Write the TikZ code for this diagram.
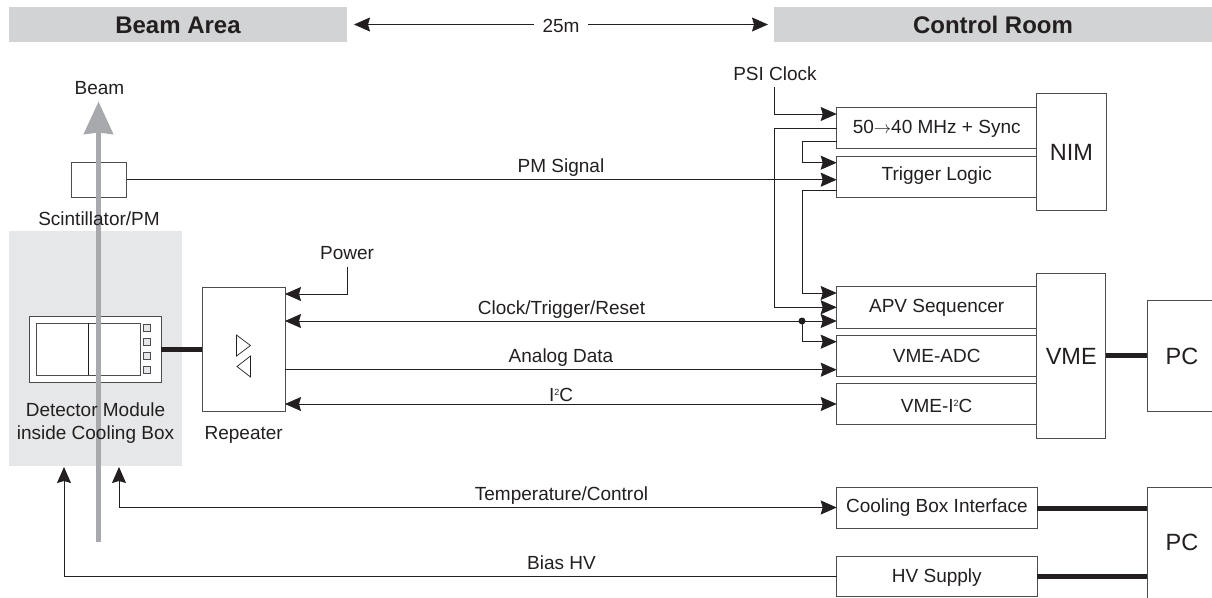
\documentclass[tikz,border=0pt]{standalone}
\usepackage{fontspec}
\setmainfont{Liberation Sans}
\usetikzlibrary{arrows.meta}
\definecolor{ink}{HTML}{231F20}
\definecolor{boxline}{HTML}{4D4D4F}
\definecolor{cool}{HTML}{E6E7E8}
\definecolor{beamc}{HTML}{A7A9AC}
\definecolor{head}{HTML}{D1D3D4}
\tikzset{
  x=1pt,y=-1pt,
  every node/.style={font=\fontsize{19}{23}\selectfont,text=ink,inner sep=0pt,outer sep=0pt},
  bx/.style={draw=boxline,line width=1pt,fill=white},
  tbx/.style={bx,text height=13.4pt,text depth=0pt},
  lab/.style={anchor=base},
  heading/.style={fill=head,font=\bfseries\fontsize{24}{28}\selectfont,text height=17pt,text depth=0pt},
  wire/.style={draw=ink,line width=0.9pt},
  tipa/.tip={Stealth[length=16pt,width=14pt,inset=2pt]},
  arr/.style={wire,-tipa},
  biarr/.style={wire,tipa-tipa},
  thick wire/.style={draw=ink,line width=5pt},
}
\newcommand{\boxat}[7][bx]{\node[#1,minimum width=#6-#4,minimum height=#7-#5] (#2) at ({(#4+#6)/2},{(#5+#7)/2}) {#3};}
\newcommand{\bigt}{\fontsize{23.5}{26}\selectfont}
\newcommand{\tb}[2]{\raisebox{#1pt}{#2}}
\newcommand{\squared}{\raisebox{6pt}{\fontsize{9}{9}\selectfont 2}}
\begin{document}
\begin{tikzpicture}
\useasboundingbox (0,0) rectangle (1212,597);
% headers
\node[heading,minimum width=338pt,minimum height=35pt] (hbeam) at (178,24.5) {Beam Area};
\node[heading,minimum width=438pt,minimum height=35pt] (hctrl) at (993,24.5) {Control Room};
\node[lab] (dist) at (561,32) {25m};
\coordinate (dl) at (354,24.5);
\coordinate (dr) at (768,24.5);
\draw[arr] (dist.west |- dl) ++(-9,0) -- (dl);
\draw[arr] (dist.east |- dr) ++(9,0) -- (dr);
% cooling box
\boxat[fill=cool]{cool}{}{9}{231}{182}{466}
% scintillator
\boxat{scint}{}{71}{162.5}{126.5}{197.3}
% module
\boxat{modout}{}{29.5}{316}{161}{382}
\boxat{modin}{}{36.5}{323}{140}{375}
\coordinate (divt) at (88,323);
\coordinate (divb) at (88,375);
\draw[wire] (divt) -- (divb);
\boxat[bx,fill=cool]{s1}{}{143.5}{324.5}{150.5}{331.5}
\boxat[bx,fill=cool]{s2}{}{143.5}{338.5}{150.5}{345.5}
\boxat[bx,fill=cool]{s3}{}{143.5}{352}{150.5}{359}
\boxat[bx,fill=cool]{s4}{}{143.5}{366}{150.5}{373}
% beam
\coordinate (beamb) at (98.5,541.7);
\coordinate (beamt) at (98.5,101.5);
\draw[draw=beamc,line width=5pt,-{Stealth[length=32.5pt,width=29pt,inset=1.5pt]}] (beamb) -- (beamt);
% labels near beam
\node[lab] (beam) at (99.5,94) {Beam};
\node[lab] (scintl) at (99,225) {Scintillator/PM};
\node[lab] (modl1) at (95.5,416) {Detector Module};
\node[lab] (modl2) at (95.5,439) {inside Cooling Box};
% repeater
\boxat{rep}{}{202}{287}{285}{411}
\node[lab] (repl) at (243.7,439) {Repeater};
\draw[draw=ink,line width=.7pt,fill=white] (236.5,335) -- (250.5,345.5) -- (236.5,356) -- cycle;
\draw[draw=ink,line width=.7pt,fill=white] (250.5,356) -- (237,366.5) -- (250.5,377) -- cycle;
% right boxes
\boxat[tbx]{nim}{\tb{-1.9}{\bigt NIM}}{1036.7}{93.7}{1106}{210.7}
\boxat[tbx]{sync}{\tb{1.2}{50{\fontsize{19}{22}\selectfont$\rightarrow$}40 MHz + Sync}}{836.7}{107}{1036.7}{148}
\boxat[tbx]{trig}{\tb{2.5}{Trigger Logic}}{836.7}{156}{1036.7}{197}
\boxat[tbx]{vme}{\tb{-1.8}{\bigt VME}}{1036.7}{273}{1105.7}{438.5}
\boxat[tbx]{apv}{\tb{1.5}{APV Sequencer}}{836.7}{286.7}{1036.7}{328.3}
\boxat[tbx]{adc}{\tb{-0.5}{VME-ADC}}{836.7}{335}{1036.7}{376.5}
\boxat[tbx]{iic}{\tb{-1.6}{VME-I\squared C}}{836.7}{383.5}{1036.7}{424.5}
\boxat[tbx]{pca}{\tb{-1.6}{\bigt PC}}{1147}{300.5}{1217}{411}
\boxat[tbx]{cbi}{\tb{1.5}{Cooling Box Interface}}{836.7}{487}{1037}{528}
\boxat[tbx]{hv}{\tb{0.7}{HV Supply}}{836.7}{556}{1037}{596.5}
\boxat[tbx]{pcb}{\tb{-1.5}{\bigt PC}}{1147}{487}{1217}{598}
% thick links
\coordinate (modc) at (161,349);
\draw[thick wire] (modc) -- (rep.west |- modc);
\draw[thick wire] (vme.east |- pca.center) -- (pca.west |- pca.center);
\coordinate (cbie) at (1037,508);
\coordinate (hve) at (1037,576.3);
\draw[thick wire] (cbie) -- (pcb.west |- cbie);
\draw[thick wire] (hve) -- (pcb.west |- hve);
% PSI clock
\node[lab] (psi) at (775,80) {PSI Clock};
\coordinate (psib) at (774.3,87);
\coordinate (psie) at (836.7,114);
\draw[arr] (psib) |- (psie);
% sync outputs
\coordinate (so1) at (836.7,128);
\coordinate (so2) at (836.7,141.7);
\coordinate (ti1) at (836.7,162.7);
\coordinate (ti2) at (836.7,179.7);
\coordinate (to1) at (836.7,190.7);
\coordinate (ap1) at (836.7,293);
\coordinate (ap2) at (836.7,307.3);
\coordinate (ap3) at (836.7,321);
\coordinate (ad1) at (836.7,341.7);
\coordinate (ad2) at (836.7,369.7);
\coordinate (ii1) at (836.7,404);
\draw[arr] (so1) -- (774.3,128) -- (774.3,307.3) -- (ap2);
\draw[arr] (so2) -- (802,141.7) -- (802,162.7) -- (ti1);
\draw[arr] (to1) -- (802,190.7) -- (802,293) -- (ap1);
% PM signal
\draw[arr] (scint.east |- ti2) -- (ti2);
\node[lab] (pml) at (561,172) {PM Signal};
% clock/trigger/reset
\draw[biarr] (rep.east |- ap3) -- (ap3);
\node[lab] (ctr) at (561.5,314) {Clock/Trigger/Reset};
\coordinate (jn) at (802,321);
\fill[ink] (jn) circle (3.5pt);
\draw[arr] (jn) |- (ad1);
% analog
\draw[arr] (rep.east |- ad2) -- (ad2);
\node[lab] (and) at (561,362) {Analog Data};
% i2c
\draw[biarr] (rep.east |- ii1) -- (ii1);
\node[lab] (i2l) at (561,401) {I\squared C};
% power
\node[lab] (pow) at (347,259.5) {Power};
\coordinate (powb) at (347,267);
\coordinate (powe) at (285,294);
\draw[arr] (powb) |- (powe);
% temperature
\coordinate (ta) at (119,467);
\coordinate (hb) at (64,467);
\draw[biarr] (ta) |- (cbi.west);
\node[lab] (tl) at (561.5,500) {Temperature/Control};
\draw[arr] (hv.west |- hve) -| (hb);
\node[lab] (bl) at (561.5,569) {Bias HV};
\end{tikzpicture}
\end{document}
